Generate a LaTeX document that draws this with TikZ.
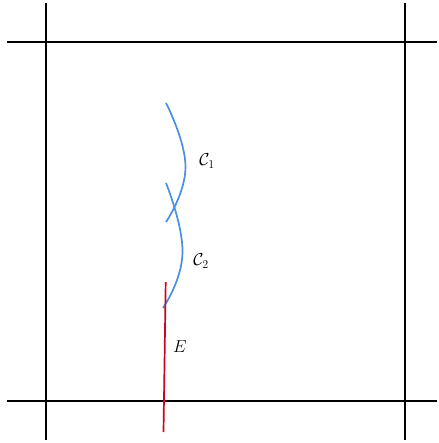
\documentclass[tikz,border=0pt]{standalone}
\begin{document}
\begin{tikzpicture}[x=1pt,y=-1pt,
  frame/.style={line width=1.8pt,black},
  curveC/.style={line width=1.7pt,color={rgb,255:red,74;green,144;blue,226}},
  lineE/.style={line width=1.7pt,color={rgb,255:red,208;green,2;blue,27}},
  lbl/.style={inner sep=0pt,font=\fontsize{17}{20}\selectfont}]
\useasboundingbox (0,0) rectangle (438,443);
\draw[frame] (46,3) -- (46,440);
\draw[frame] (405,3) -- (405,440);
\draw[frame] (7,42) -- (437,42);
\draw[frame] (7,401) -- (437,401);
\draw[curveC] plot[smooth,tension=0.8] coordinates {(166,103) (185.5,167) (166,222)};
\draw[curveC] plot[smooth,tension=0.8] coordinates {(166,183) (182.5,253) (163,308)};
\coordinate (e1) at (165.7,282);
\coordinate (e2) at (163.5,432);
\draw[lineE] (e1) -- (e2);
\node[lbl] (c1) at (207,161) {$\mathcal{C}_1$};
\node[lbl] (c2) at (201,261) {$\mathcal{C}_2$};
\node[lbl] (e) at (180,347) {$E$};
\end{tikzpicture}
\end{document}
